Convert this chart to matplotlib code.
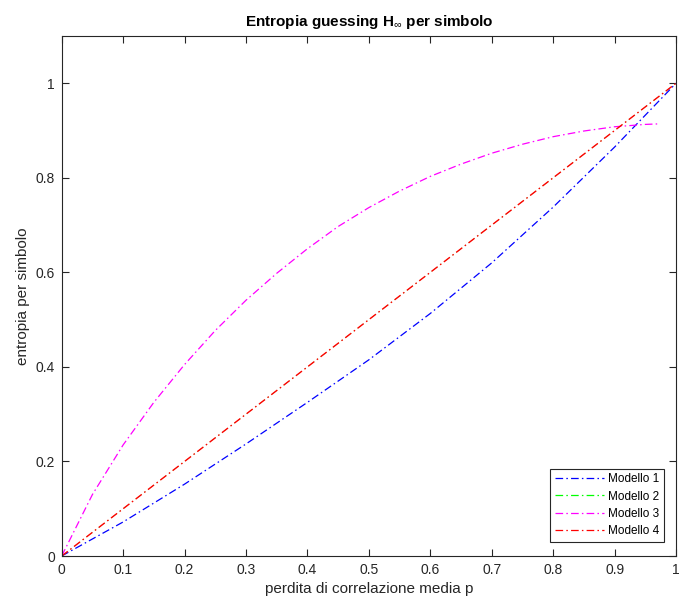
import matplotlib
matplotlib.use("Agg")
import matplotlib.pyplot as plt
import numpy as np

plt.rcParams['font.family'] = ['Liberation Sans', 'DejaVu Sans']
plt.rcParams['mathtext.fontset'] = 'custom'
plt.rcParams['mathtext.rm'] = 'Liberation Sans'
plt.rcParams['mathtext.bf'] = 'Liberation Sans:bold'
plt.rcParams['lines.scale_dashes'] = False

# valori
p = [0.0, 0.1, 0.2, 0.3, 0.4, 0.5, 0.6, 0.7, 0.8, 0.9, 1.0]
mod1 = [0.0, 0.072, 0.152, 0.237, 0.325, 0.415, 0.513, 0.62, 0.738, 0.865, 1.0]
mod2 = [0.0, 0.1, 0.2, 0.3, 0.4, 0.5, 0.6, 0.7, 0.8, 0.9, 1.0]
mod4 = [0.0, 0.1, 0.2, 0.3, 0.4, 0.5, 0.6, 0.7, 0.8, 0.9, 1.0]

p3 = [0.0, 0.05, 0.1, 0.15, 0.2, 0.25, 0.3, 0.35, 0.4, 0.45, 0.5,
      0.55, 0.6, 0.65, 0.7, 0.75, 0.8, 0.85, 0.9, 0.95, 0.97]
mod3 = [0.0, 0.13, 0.235, 0.325, 0.405, 0.477, 0.541, 0.598, 0.65, 0.697, 0.737,
        0.772, 0.803, 0.829, 0.852, 0.871, 0.887, 0.899, 0.908, 0.913, 0.914]

grigio = '#262626'
dd = (0, (5.5, 2.3, 1.1, 2.3))

fig = plt.figure(figsize=(6.79, 6.10), dpi=100)
ax = fig.add_axes([61.7 / 679, 1 - 556 / 610, (676 - 61.7) / 679, (556 - 36) / 610])

ax.plot(p, mod1, color='#0000ff', lw=0.9, linestyle=dd, label='Modello 1')
ax.plot(p, mod2, color='#00ff00', lw=0.3, linestyle=dd, label='Modello 2')
ax.plot(p3, mod3, color='#ff00ff', lw=0.9, linestyle=dd, label='Modello 3')
ax.plot(p, mod4, color='#ff0000', lw=1.0, linestyle=dd, label='Modello 4')

ax.set_xlim(0, 1)
ax.set_ylim(0, 1.1)
ax.set_xticks(np.arange(0, 1.01, 0.1))
ax.set_xticklabels(['0', '0.1', '0.2', '0.3', '0.4', '0.5', '0.6', '0.7', '0.8', '0.9', '1'])
ax.set_yticks([0, 0.2, 0.4, 0.6, 0.8, 1])
ax.set_yticklabels(['0', '0.2', '0.4', '0.6', '0.8', '1'])
ax.tick_params(direction='in', top=True, right=True, length=5, width=0.8,
               colors=grigio, labelsize=10, pad=5)
for s in ax.spines.values():
    s.set_color(grigio)
    s.set_linewidth(0.8)

ax.set_title(r'Entropia guessing H$_{\infty}$ per simbolo', fontsize=11,
             fontweight='bold', color='black', pad=7)
ax.set_xlabel('perdita di correlazione media p', fontsize=11, color=grigio, labelpad=4)
ax.set_ylabel('entropia per simbolo', fontsize=11, color=grigio, labelpad=4)

leg = ax.legend(loc='lower right', bbox_to_anchor=(0.98, 0.027), borderaxespad=0,
                fancybox=False, edgecolor=grigio, framealpha=1, fontsize=8.5,
                handlelength=4.2, handletextpad=0.3, labelspacing=0.45,
                borderpad=0.4)
leg.get_frame().set_linewidth(0.8)
for ln in leg.get_lines():
    ln.set_linewidth(0.9)

fig.savefig('out.png', dpi=100)
